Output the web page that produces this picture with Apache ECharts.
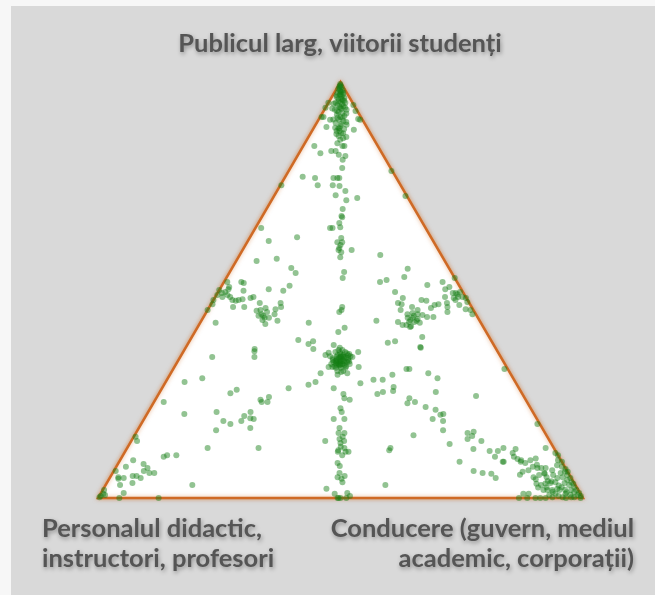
<!DOCTYPE html>
<html>
<head>
<meta charset="utf-8">
<script src="https://cdn.jsdelivr.net/npm/echarts@6/dist/echarts.min.js"></script>
<style>
  html, body { margin: 0; padding: 0; background: #f7f7f7; }
  #chart { position: absolute; left: 11px; top: 6px; width: 644px; height: 589px; background: #d9d9d9; }
</style>
</head>
<body>
<div id="chart"></div>
<script>
// each response is [public %, leadership %]; teaching % is the remainder
const topVertex = [[99.5,0.2],[99.0,0.3],[98.8,0.8],[98.3,0.4],[98.1,1.4],[97.8,1.1],[97.4,0.7],[97.4,1.9],[96.9,1.4],[96.6,1.9],[96.4,1.0],[96.2,2.7],[95.9,1.6],[95.7,2.6],[95.2,2.4],[95.0,1.5],[95.0,3.5],[94.5,2.1],[94.2,3.5],[94.0,2.8],[93.5,3.4],[93.3,2.2],[93.3,4.6],[92.8,3.2],[92.6,4.1],[92.1,3.2],[91.8,4.9],[91.6,4.2],[90.9,4.2],[90.6,5.3],[90.2,3.9],[89.9,5.2],[89.7,6.4],[88.9,5.3],[88.7,6.4],[88.2,5.1],[87.7,6.3],[87.0,6.1],[86.5,7.3],[86.1,6.9],[85.3,6.7],[84.6,8.1],[98.6,0.5],[97.6,1.4],[97.1,1.4],[95.4,1.9],[94.7,3.0],[93.8,3.1],[91.4,3.7],[91.4,4.7],[89.4,5.3],[88.2,5.7],
    [99.2,0.4],[98.0,0.9],[97.0,2.0],[96.0,2.2],[95.5,3.0],[94.8,1.2],[93.9,4.0],[93.0,2.8],[92.4,5.0],[91.0,3.0],[90.4,6.0],[89.0,4.4],[87.5,5.4],[86.8,7.8],[93.6,1.5],[96.8,0.8]]
const nearTop = [[95.0,0.0],[93.8,0.0],[91.6,0.3],[91.6,0.7],[94.5,5.4],[93.0,6.6],[91.1,8.1],[90.9,8.6],[89.2,2.5],[90.9,2.4],[88.5,8.5],[88.9,5.1],[87.7,6.7],[84.6,2.3],[82.9,4.4],[83.4,6.4],[83.4,7.3],[82.5,8.4],[84.6,8.5],[82.2,9.9],[81.3,9.8],[79.3,10.7],[77.2,3.6],[76.9,6.3],[75.2,7.7],[76.9,10.1],[76.9,10.9],[76.9,11.3],[75.2,10.8],[75.0,12.3],[72.8,12.6],[73.8,14.1],[72.1,17.4],[71.6,15.4],[69.5,15.7],[67.8,16.3],[75.2,0.2],[78.6,21.2],[72.6,27.1]]
const upperMedian = [[67.5,16.6],[66.1,16.7],[65.1,17.4],[64.9,15.9],[61.5,18.6],[61.5,19.6],[60.1,19.7],[59.1,20.6],[57.9,21.0],[59.6,22.5],[54.3,23.6],[52.9,24.0],[60.8,19.6],[59.6,19.8],[62.5,18.9],[45.9,27.4],[44.7,27.4],[45.2,27.6],[39.9,29.6],[40.9,30.4]]
const upperLeft = [[64.9,1.2],[61.8,4.3],[62.7,9.7],[57.0,4.2],[57.5,8.1],[55.3,12.2],[54.1,13.7],[51.0,14.0],[49.8,13.3],[50.2,10.1],[64.9,15.4]]
const leftEdgeMid = [[50.0,0.0],[49.3,0.9],[48.8,0.2],[47.6,0.0],[46.6,0.3],[45.2,0.0],[51.9,0.7],[50.7,1.7],[48.3,3.1],[47.6,3.9],[47.4,4.7],[47.6,5.2],[47.8,5.9],[45.9,4.9],[45.9,7.2],[51.9,3.6],[51.7,4.2],[49.8,5.1],[48.1,7.4],[48.3,7.9],[42.1,3.2],[49.5,1.5],[48.8,2.3],[48.3,1.5],[50.2,1.8]]
const leftInner = [[45.2,10.9],[45.0,10.2],[45.7,11.7],[44.7,12.5],[43.8,11.2],[43.8,12.2],[43.3,13.6],[42.8,12.5],[41.8,13.6],[46.9,9.9],[45.4,13.9],[44.2,14.3],[46.9,14.2],[45.9,14.8],[42.6,15.7],[44.2,11.6],[43.3,12.7]]
const midLeft = [[42.1,22.4],[38.0,22.3],[37.0,24.9],[37.7,25.5],[35.8,26.5],[35.8,14.4],[33.9,15.3],[33.9,6.6],[28.8,7.1],[26.4,26.1],[26.0,15.6],[25.2,14.7],[24.3,23.1],[23.6,21.7],[23.1,22.2],[23.1,23.4],[35.3,14.6]]
const rightInner = [[58.4,29.0],[55.1,36.3],[53.1,36.6],[51.9,32.2],[52.4,33.3],[51.2,42.3],[49.5,36.5],[48.1,38.8],[46.9,38.4],[46.6,39.3],[42.6,36.1],[47.6,42.9],[47.4,44.0],[45.7,45.8],[46.4,46.2],[46.6,46.9],[45.2,39.8],[45.9,41.8],[45.2,43.3],[44.2,41.7],[44.5,42.6],[44.2,43.8],[44.0,44.9],[43.3,42.2],[43.3,43.2],[43.0,44.4],[42.3,43.0],[42.3,44.1],[42.1,45.3],[41.3,43.9],[41.6,42.8],[43.8,43.2],[42.8,43.0],[42.6,44.4],[42.3,40.7],[41.6,42.0],[41.1,43.8],[43.5,46.1],[43.5,47.4],[38.7,47.5],[36.1,48.5],[37.7,42.4],[37.3,41.1],[36.3,48.3]]
const rightEdgeMid = [[51.9,45.1],[52.9,47.1],[50.7,47.1],[50.2,46.5],[49.3,48.5],[49.3,49.1],[49.5,49.9],[48.3,50.1],[48.3,51.0],[48.1,51.8],[47.1,52.6],[48.3,47.4],[46.9,48.5],[45.9,49.1],[44.7,49.7],[46.4,51.3],[45.4,53.1],[45.2,54.2],[44.2,55.1],[48.1,49.3],[47.6,49.9],[49.0,49.6]]
const centre = [[33.2,33.4],[33.9,32.2],[33.9,33.8],[33.2,31.8],[33.2,35.0],[32.2,33.5],[32.2,34.3],[35.1,31.4],[35.1,33.4],[34.6,32.7],[31.7,32.9],[31.7,35.3],[31.3,34.4],[34.1,30.8],[34.1,35.0],[30.5,34.1],[30.5,35.3],[32.7,32.2],[32.7,35.0],[33.9,33.0],[35.6,31.8],[35.6,32.6],[32.9,32.7],[32.9,34.3],[32.2,33.9],[31.3,33.4],[31.3,35.4],[36.1,31.8],[30.3,35.0],[32.2,32.0],[32.2,35.8],[34.4,32.2],[34.4,33.4],[33.7,32.8],[33.4,33.7],[32.7,33.4],[34.1,33.1],[32.0,33.2],[32.0,34.8],[33.5,33.0],[32.9,33.6],[33.8,34.2],[33.0,32.5],[32.5,34.6],[34.8,33.9],[31.9,33.8],[33.6,31.6],[34.3,34.4],[32.4,32.9],
    [33.0,34.0],[34.0,33.5],[32.6,33.0],[33.3,32.6],[33.6,34.8],[31.8,34.0],[34.6,34.5],[32.8,35.4],[35.0,32.4],[31.5,32.6]]
const aroundCentre = [[36.8,30.2],[34.9,30.1],[34.4,29.7],[33.9,35.5],[35.1,36.1],[31.5,38.0],[30.0,36.4],[29.6,34.6],[31.5,31.8],[30.0,30.9],[27.2,29.8],[27.9,30.9],[26.4,35.4],[25.0,38.1],[24.0,38.8],[23.6,40.1],[27.6,40.3],[28.4,42.6],[28.4,44.5],[29.6,45.9],[26.7,47.6],[25.7,48.0],[25.5,46.0],[25.0,45.1],[31.0,48.1],[31.0,48.7],[30.0,53.1],[28.8,55.6],[25.5,56.9],[24.0,52.2],[23.1,53.8],[22.8,52.4],[24.5,65.7]]
const lowerMedian = [[21.6,39.2],[20.7,39.9],[19.0,39.1],[19.0,41.3],[16.8,41.4],[15.6,43.0],[15.6,41.8],[14.2,42.7],[14.7,43.1],[13.7,43.9],[13.2,43.4],[12.3,43.9],[11.5,43.8],[11.1,43.9],[12.0,44.8],[11.1,46.1],[10.3,45.2],[11.1,45.5],[7.7,46.0],[8.4,45.2],[6.0,46.8],[5.0,46.9],[5.3,48.2],[4.6,47.9],[3.8,48.5],[2.2,46.0],[1.0,48.3],[0.0,49.4],[0.0,49.6],[1.2,50.8],[0.5,51.7],[0.0,51.2],[0.0,50.0],[13.7,40.0]]
const lowerScattered = [[12.0,27.1],[15.1,57.5],[12.0,54.3],[11.5,54.3],[3.1,57.7],[27.9,3.9],[23.1,2.0],[20.2,7.7],[20.7,14.1],[18.5,16.6],[17.8,18.4],[16.3,16.2],[18.5,20.3],[19.7,20.3],[20.7,21.1],[19.2,21.8],[19.0,22.6],[16.8,23.0],[12.0,16.6],[3.1,17.9],[0.0,12.5]]
const bottomLeft = [[14.7,0.4],[13.7,1.2],[9.1,2.7],[9.9,8.6],[10.3,9.1],[10.3,11.0],[8.2,5.3],[7.2,6.6],[6.5,6.2],[6.0,7.6],[6.0,8.6],[7.5,2.0],[6.5,0.4],[5.0,1.7],[4.8,2.9],[4.6,1.9],[5.3,4.5],[5.3,5.3],[4.8,6.4],[3.6,5.3],[3.1,3.0],[1.2,4.7],[0.0,4.4],[1.9,0.3],[1.0,0.6],[0.7,1.1],[0.2,0.2],[0.5,0.3]]
const lowerRight = [[21.9,56.6],[21.2,59.0],[20.2,61.1],[20.0,60.6],[19.0,59.5],[18.5,61.9],[16.3,63.0],[31.0,68.3],[17.8,81.7],[15.6,68.4],[15.9,69.5],[14.2,69.1],[14.9,69.7],[13.7,72.2],[13.0,66.0],[11.8,71.5],[11.3,75.1],[11.3,76.8],[12.0,77.6],[9.9,76.9],[8.7,79.3],[8.7,70.2],[6.5,74.2],[6.0,76.3],[5.8,78.2],[4.8,79.6],[11.8,80.2],[9.9,80.8],[10.8,80.1],[1.0,87.2],[1.0,88.3],[8.7,79.1],[9.4,81.8],[8.7,82.8],[6.3,84.4]]
const bottomRight = [[5.6,84.2],[9.1,82.7],[8.4,83.9],[9.1,84.6],[7.5,85.9],[6.7,85.4],[5.0,87.3],[7.2,87.0],[7.2,87.8],[7.2,88.7],[5.5,88.2],[5.8,89.2],[4.1,90.7],[3.1,89.8],[2.6,91.2],[6.7,90.3],[5.5,91.1],[3.8,92.4],[3.6,91.5],[6.0,92.4],[7.9,90.7],[9.1,90.3],[10.8,88.9],[12.0,86.3],[5.0,93.3],[3.6,94.4],[2.6,94.3],[4.3,94.6],[3.1,95.6],[1.9,96.6],[1.4,95.9],[1.4,97.5],[0.7,98.5],[0.2,98.1],[0.2,95.7],[0.2,93.6],[0.7,92.7],[0.0,90.2],[0.0,91.2],[0.0,92.3],[0.2,97.5],[0.0,99.5],[5.5,94.0],[3.8,95.7],[2.6,96.9],[6.3,93.7],[7.5,91.9],[7.0,92.9],[4.8,92.3],[1.9,92.7],[2.2,93.6],[1.9,91.7],[1.2,98.6],[0.5,99.3],[1.9,97.7],[3.4,96.3],[4.8,95.0],[6.3,93.1],[1.9,94.2],[1.0,95.9],[1.0,93.8],[1.9,90.9],[3.4,88.7],[8.7,91.3],[10.3,89.7],
    [2.0,95.3],[3.0,93.5],[4.0,91.5],[6.0,89.0],[8.0,86.5],[2.5,89.5],[0.5,94.7],[0.0,96.5],[3.5,90.5],[5.0,90.0],[0.8,97.0],[1.5,93.0],[4.5,88.0],[9.5,85.5],[0.0,88.5],[0.0,86.8]]

const cornerLabels = ['Publicul larg, viitorii studenți', 'Personalul didactic,\ninstructori, profesori', 'Conducere (guvern, mediul\nacademic, corporații)']

const SQ = Math.sqrt(3) / 2
const groups = [topVertex, nearTop, upperMedian, upperLeft, leftEdgeMid, leftInner, midLeft, rightInner,
    rightEdgeMid, centre, aroundCentre, lowerMedian, lowerScattered, bottomLeft, lowerRight, bottomRight]

// ternary -> plane: leadership pulls right, public pulls up
const points = groups.flat().map(([pub, lead]) => [(lead + pub / 2) / 100, (pub / 100) * SQ])

const chart = echarts.init(document.getElementById('chart'), null, { renderer: 'canvas' })

const labelStyle = {
    fill: '#555',
    font: 'bold 25.5px Lato',
    lineHeight: 30,
    textShadowColor: 'rgba(0,0,0,0.35)',
    textShadowBlur: 4,
    textShadowOffsetX: 1,
    textShadowOffsetY: 2,
}

chart.setOption({
    animation: false,
    grid: { left: 87, top: 76, width: 485, height: 416 },
    xAxis: { type: 'value', min: 0, max: 1, show: false },
    yAxis: { type: 'value', min: 0, max: SQ, show: false },
    graphic: [
        { type: 'text', x: 329, y: 38, style: { ...labelStyle, text: cornerLabels[0], align: 'center', verticalAlign: 'middle' } },
        { type: 'text', x: 31, y: 538, style: { ...labelStyle, text: cornerLabels[1], align: 'left', verticalAlign: 'middle' } },
        { type: 'text', x: 623, y: 538, style: { ...labelStyle, text: cornerLabels[2], align: 'right', verticalAlign: 'middle' } },
    ],
    series: [
        {
            type: 'custom',
            z: 1,
            silent: true,
            data: [[0, 0]],
            renderItem: (params, api) => ({
                type: 'polygon',
                shape: { points: [api.coord([0, 0]), api.coord([1, 0]), api.coord([0.5, SQ])] },
                style: {
                    fill: '#fff',
                    stroke: '#cf6a25',
                    lineWidth: 2.5,
                    shadowBlur: 4,
                    shadowColor: 'rgba(210,105,30,0.5)',
                },
            }),
        },
        {
            type: 'scatter',
            z: 3,
            clip: false,
            symbolSize: 6,
            data: points,
            itemStyle: { color: 'rgba(20,125,20,0.58)' },
        },
    ],
})
</script>
</body>
</html>
